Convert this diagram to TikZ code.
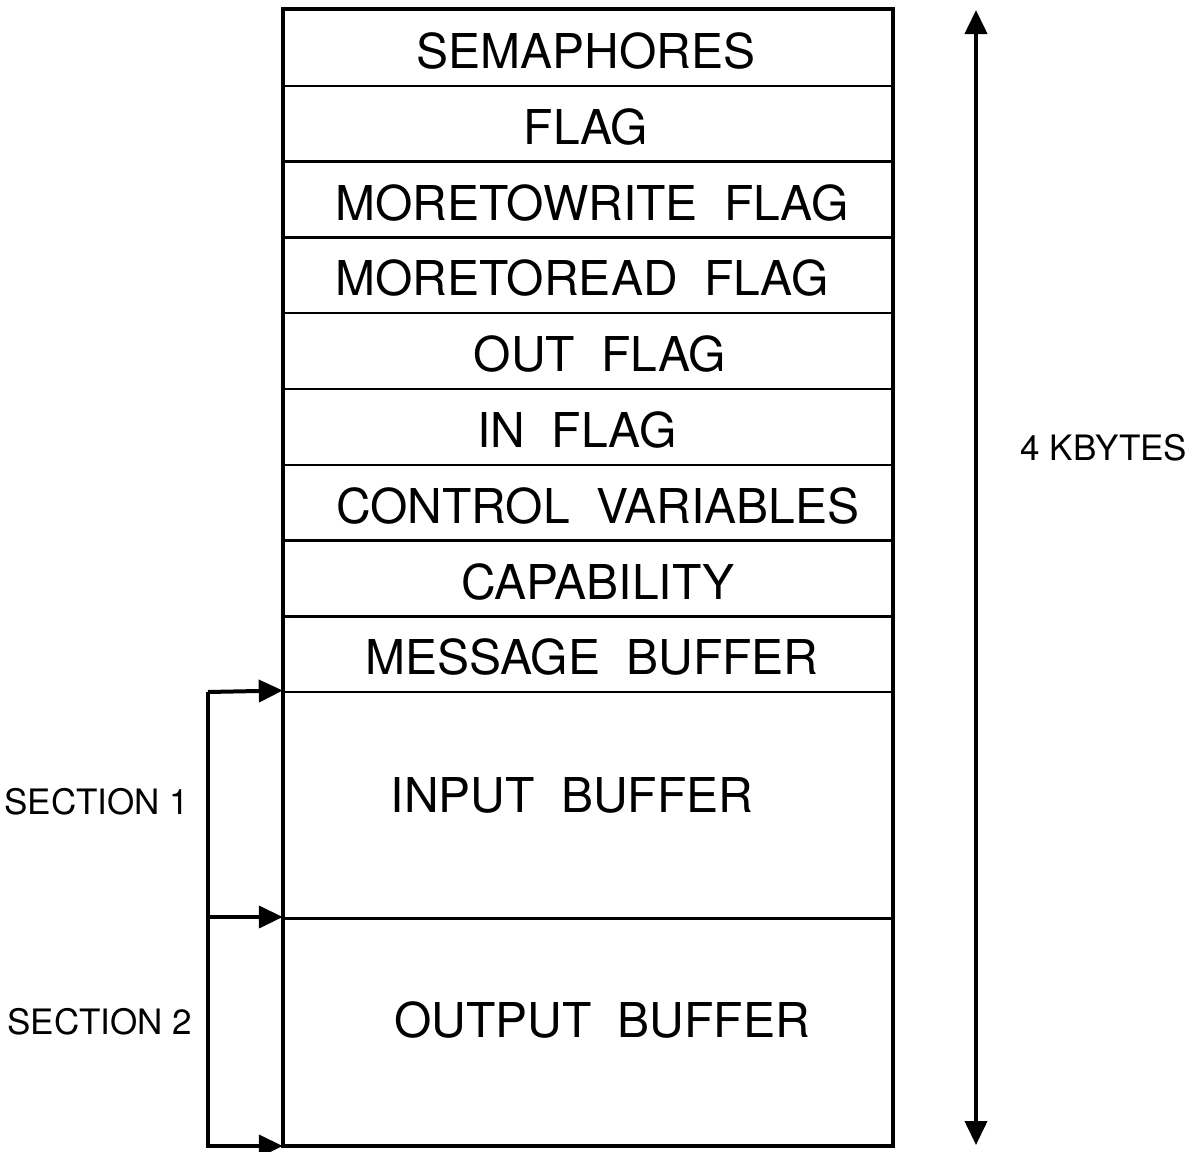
\documentclass[tikz,border=0pt]{standalone}
\usepackage{fontspec}
\setmainfont{TeX Gyre Heros}
\usetikzlibrary{arrows.meta,positioning}
\newcommand{\wgap}{\hskip 0.55em}
\tikzset{
  >={Triangle[length=12pt,width=11pt]},
  cell/.style={draw,line width=1.2pt,minimum width=304pt,minimum height=37.9pt,
               inner sep=0pt},
  bigcell/.style={cell,minimum height=113.3pt},
  celltext/.style={inner sep=0pt,font=\fontsize{24}{27}\selectfont},
  frame/.style={line width=2pt},
  side/.style={font=\fontsize{17.5}{20}\selectfont},
  span/.style={<->,line width=2pt},
  feed/.style={->,line width=2pt},
}
\begin{document}
\begin{tikzpicture}[x=0.5pt,y=-0.5pt]
  \useasboundingbox (0,0) rectangle (1196,1152);
  % stacked control rows, text nudged as in the print
  \foreach \i/\dx/\txt in {1/-2/SEMAPHORES,2/-2/FLAG,3/4/MORETOWRITE\wgap FLAG,
      4/-6/MORETOREAD\wgap FLAG,5/12/OUT\wgap FLAG,6/-11/IN\wgap FLAG,
      7/10/CONTROL\wgap VARIABLES,8/10/CAPABILITY,9/4/MESSAGE\wgap BUFFER}{
    \node[cell] (r\i) at (588,{10+75.8*(\i-0.5)}) {};
    \node[celltext] (t\i) at ({588+\dx},{13+75.8*(\i-0.5)}) {\txt};
  }
  \node[bigcell] (inbuf) at (588,805) {};
  \node[celltext] (intxt) at (572,795) {INPUT\wgap BUFFER};
  \node[bigcell] (outbuf) at (588,1031.5) {};
  \node[celltext] (outtxt) at (602,1020) {OUTPUT\wgap BUFFER};
  \draw[frame] (r1.north west) rectangle (outbuf.south east);

  % overall size
  \coordinate (ktop) at (976,10);
  \coordinate (kbot) at (976,1145);
  \draw[span] (ktop) -- (kbot);
  \node[side] (size) at (1104,448) {4 KBYTES};

  % sections
  \coordinate (brk) at (208,692);
  \draw[feed] (brk) -- (inbuf.north west);
  \draw[feed] (brk |- outbuf.north west) -- (outbuf.north west);
  \draw[feed] (brk) -- (brk |- outbuf.south west) -- (outbuf.south west);
  \node[side] (sec1) at (97,802) {SECTION 1};
  \node[side] (sec2) at (100,1022) {SECTION 2};
\end{tikzpicture}
\end{document}
